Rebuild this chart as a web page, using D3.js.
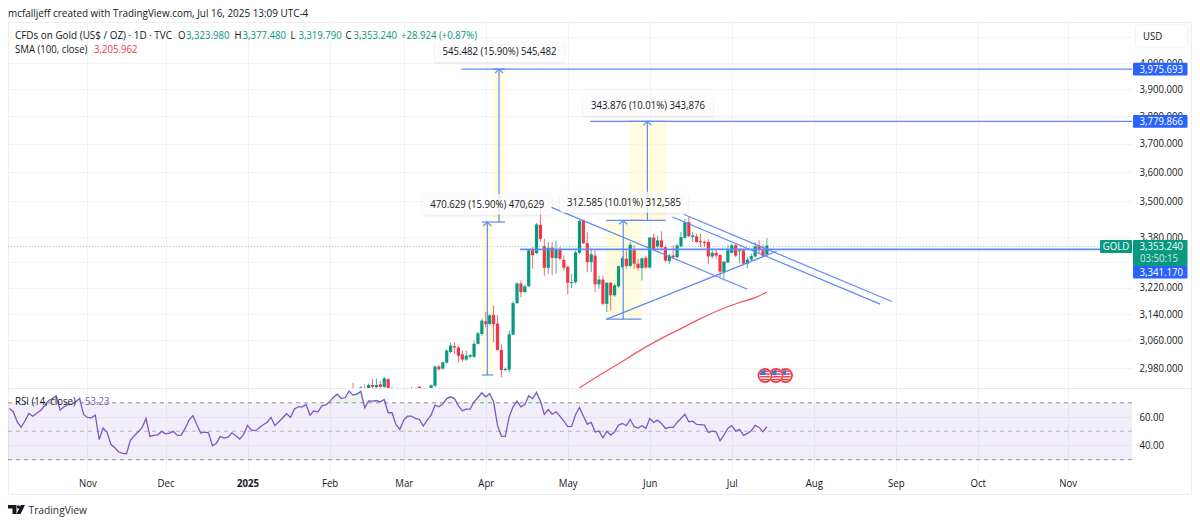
<!DOCTYPE html>
<html><head><meta charset="utf-8">
<script src="https://cdnjs.cloudflare.com/ajax/libs/d3/7.8.5/d3.min.js"></script>
<style>
html,body{margin:0;padding:0;background:#fff;overflow:hidden}
text{font-family:"Open Sans","Noto Sans",sans-serif;font-size:10.5px;fill:#131722}
.axis path,.axis line{display:none}
.axis text{fill:#131722;font-size:10.5px}
</style></head><body>
<svg id="c" width="1200" height="524"></svg>
<script>
// ---------- data ----------
const opens=[2915,2900,2905,2920,2905,2931,2925,2933,2926,2948,
2900,2915,2895,2880,2905,2910,2920,2926,2905,2895,
2905,2929,2984,2978,2995,3026,3043,3039,3019,3004,
3012,3012,3050,3079,3117,3109,3136,3110,3032,2974,
2975,3077,3172,3233,3206,3224,3338,3329,3421,3351,
3282,3347,3313,3340,3307,3285,3234,3237,3330,3436,
3361,3300,3321,3230,3245,3170,3235,3196,3224,3284,
3311,3288,3338,3295,3281,3314,3283,3379,3351,3370,
3348,3303,3321,3316,3351,3379,3430,3381,3383,3367,
3365,3365,3318,3330,3323,3268,3299,3330,3354,3335,
3338,3295,3308,3318,3351,3338,3323.98];
const highs=[2937,2918,2928,2933,2935,2948,2950,2942,2954,2950,
2926,2918,2905,2915,2923,2926,2923,2928,2915,2918,
2933,2986,2988,2998,3034,3054,3054,3044,3030,3030,
3020,3059,3085,3124,3145,3139,3165,3135,3049,2981,
3089,3178,3236,3242,3229,3342,3349,3427,3500,3375,
3365,3365,3370,3349,3321,3289,3263,3338,3438,3438,
3397,3343,3338,3258,3258,3237,3237,3232,3289,3319,
3338,3365,3354,3311,3316,3321,3381,3392,3386,3400,
3354,3327,3354,3359,3397,3441,3450,3397,3392,3392,
3370,3375,3340,3340,3326,3303,3354,3359,3359,3343,
3340,3316,3327,3365,3370,3359,3377.48];
const lows=[2890,2880,2895,2895,2895,2922,2920,2920,2920,2905,
2890,2885,2870,2875,2895,2900,2895,2900,2885,2890,
2900,2925,2972,2975,2992,3022,3020,2996,2998,3000,
3008,3008,3048,3074,3099,3105,3054,3030,2953,2970,
2967,3075,3170,3190,3204,3222,3279,3325,3365,3256,
3263,3258,3263,3305,3273,3199,3219,3233,3326,3358,
3268,3268,3206,3216,3165,3145,3150,3191,3220,3279,
3279,3284,3279,3273,3242,3279,3279,3336,3343,3338,
3300,3293,3311,3311,3348,3375,3381,3365,3362,3348,
3348,3293,3311,3311,3253,3248,3297,3327,3316,3297,
3289,3281,3304,3316,3327,3316,3319.79];
const closes=[2900,2890,2924,2905,2931,2926,2931,2926,2950,2920,
2915,2895,2880,2905,2915,2922,2905,2905,2895,2905,
2930,2984,2976,2996,3030,3045,3039,3015,3004,3015,
3017,3050,3081,3119,3109,3135,3108,3032,2974,2977,
3078,3172,3233,3206,3224,3338,3322,3422,3375,3282,
3346,3313,3340,3311,3282,3235,3237,3331,3434,3361,
3300,3325,3230,3245,3170,3235,3196,3227,3287,3313,
3288,3356,3295,3281,3312,3283,3379,3340,3370,3348,
3305,3321,3316,3354,3381,3430,3384,3386,3365,3365,
3363,3318,3330,3321,3270,3302,3338,3354,3321,3338,
3295,3308,3319,3351,3338,3319,3353.24];
const rsiValues=[66.0,63.7,56.7,52.7,57.4,62.5,60.6,62.7,64.6,67.9,71.4,73.0,74.9,64.9,67.2,68.8,69.1,70.7,73.0,61.8,
59.7,59.5,61.3,44.2,52.2,49.2,40.8,38.4,35.4,34.4,34.2,43.8,46.8,49.6,52.7,59.0,46.4,47.1,47.5,49.9,
48.2,48.7,49.9,47.1,47.3,52.0,57.8,60.9,54.8,48.7,49.4,48.9,39.8,41.5,46.4,45.2,45.9,48.9,46.8,44.5,
47.8,54.1,50.8,50.4,52.5,54.6,56.2,59.7,53.9,56.7,59.5,62.3,59.7,65.6,67.2,67.2,68.8,61.3,64.4,63.5,
67.9,68.6,70.7,74.0,76.1,73.0,73.7,78.2,75.4,76.1,78.0,66.5,71.4,71.2,71.6,70.7,72.3,63.0,63.0,54.8,51.3,
57.8,60.6,60.6,59.0,58.3,53.6,57.8,61.3,68.4,67.2,69.3,73.0,74.2,73.0,67.9,64.4,65.6,65.6,70.7,73.7,
77.0,74.2,76.5,70.7,54.3,46.6,46.4,60.2,67.2,71.2,67.2,68.8,74.9,73.0,77.3,71.2,61.8,65.3,62.0,63.7,
60.6,57.1,53.2,53.4,61.8,66.7,60.6,55.0,56.2,49.4,50.1,45.4,49.9,47.3,49.6,54.3,55.5,53.9,58.3,53.2,
52.2,53.9,52.0,59.0,56.2,57.8,55.5,52.0,52.7,52.7,56.2,59.0,62.0,56.7,57.1,54.8,54.6,54.3,49.2,50.1,
49.6,43.3,47.3,52.0,53.9,50.1,51.3,47.1,48.5,50.4,54.1,52.7,49.6,53.23];
const smaBars=[58,63,68,73,79,84,89,94,99,103,106];
const smaValues=[2923,2958,2992,3027,3066,3095,3125,3152,3174,3189,3205.962];
const gridPrices=[4100,4000,3900,3800,3700,3600,3500,3380,3300,3220,3140,3060,2980];
const priceLabels=[4000,3900,3800,3700,3600,3500,3380,3220,3140,3060,2980];
const rsiTicks=[60,40];
const rsiLevels=[70,50,30];
const monthBars=[-68,-48,-27,-6,13,34,55,76,97,118,139,160,183];
const monthLabels=["Nov","Dec","2025","Feb","Mar","Apr","May","Jun","Jul","Aug","Sep","Oct","Nov"];
const hLinePrices=[3975.693,3779.866,3341.17];
const hLineStartBars=[27.8,60.7,42.8];
// measure tools: left bar, right bar, arrow bar, from price, to price
const measureLeft=[33,35.8,64.8,70.9];
const measureRight=[35.9,38.9,73.9,80.1];
const measureArrow=[34.4,37.4,69.2,75.4];
const measureFrom=[2959.58,3430.211,3123.405,3435.99];
const measureTo=[3430.211,3975.693,3435.99,3779.866];
const measureLabels=["470.629 (15.90%) 470,629","545.482 (15.90%) 545,482","312.585 (10.01%) 312,585","343.876 (10.01%) 343,876"];
// trend lines: bar and price at both ends
const trendBarA=[50.7,65,84.8,81.8];
const trendPriceA=[3480,3123.4,3455,3447];
const trendBarB=[101,108.5,138,135];
const trendPriceB=[3215,3335,3177,3169];
const lastPrice=3353.24;

// ---------- layout ----------
const paneL=8,paneR=1132,frameR=1191,frameT=22,frameB=494,mainB=388,rsiB=472;
const UP="#089981",DOWN="#f23645",BLUE="#5f8bf8",BADGE="#2962ff";
const svg=d3.select("#c");
const x=d3.scaleLinear().domain([0,106]).range([353,766.9]);
const y=d3.scaleLog().domain([3900,3060]).range([89,340.4]);
const r=d3.scaleLinear().domain([70,30]).range([402.8,459.7]);

const defs=svg.append("defs");
defs.append("clipPath").attr("id","main").append("rect").attr("x",paneL).attr("y",frameT).attr("width",paneR-paneL).attr("height",mainB-frameT);
defs.append("clipPath").attr("id","rsi").append("rect").attr("x",paneL).attr("y",mainB).attr("width",paneR-paneL).attr("height",rsiB-mainB);

// grid
const grid=svg.append("g").attr("stroke","#f2f3f6").attr("stroke-width",1);
grid.selectAll(".v").data(monthBars).join("line").attr("x1",d=>Math.round(x(d))+.5).attr("x2",d=>Math.round(x(d))+.5).attr("y1",frameT).attr("y2",rsiB);
grid.selectAll(".h").data(gridPrices).join("line").attr("x1",paneL).attr("x2",paneR).attr("y1",d=>Math.round(y(d))+.5).attr("y2",d=>Math.round(y(d))+.5);
grid.selectAll(".r").data(rsiTicks).join("line").attr("x1",paneL).attr("x2",paneR).attr("y1",d=>Math.round(r(d))+.5).attr("y2",d=>Math.round(r(d))+.5);

// frame
svg.append("rect").attr("x",paneL+.5).attr("y",frameT+.5).attr("width",frameR-paneL).attr("height",frameB-frameT).attr("fill","none").attr("stroke","#eceef2");
svg.append("line").attr("x1",paneL).attr("x2",frameR).attr("y1",mainB+.5).attr("y2",mainB+.5).attr("stroke","#e6e8ee");

// main pane
const main=svg.append("g").attr("clip-path","url(#main)");
// last price line
main.append("line").attr("x1",paneL).attr("x2",paneR).attr("y1",Math.round(y(lastPrice))+.5).attr("y2",Math.round(y(lastPrice))+.5).attr("stroke",UP).attr("stroke-width",1).attr("stroke-dasharray","1 2").attr("opacity",.45);
// yellow bands
main.selectAll(".band").data(measureLeft).join("rect")
 .attr("x",(d,i)=>x(d)).attr("width",(d,i)=>x(measureRight[i])-x(d))
 .attr("y",(d,i)=>y(measureTo[i])).attr("height",(d,i)=>y(measureFrom[i])-y(measureTo[i]))
 .attr("fill","#fff9c4").attr("opacity",.55);
// candles
const bars=d3.range(opens.length);
const col=i=>closes[i]>=opens[i]?UP:DOWN;
main.selectAll(".w").data(bars).join("line").attr("x1",i=>x(i)).attr("x2",i=>x(i)).attr("y1",i=>y(highs[i])).attr("y2",i=>y(lows[i])).attr("stroke",col).attr("stroke-width",1).attr("opacity",.75);
main.selectAll(".b").data(bars).join("rect").attr("x",i=>x(i)-1.6).attr("width",3.2)
 .attr("y",i=>y(Math.max(opens[i],closes[i]))).attr("height",i=>Math.max(1,Math.abs(y(opens[i])-y(closes[i])))).attr("fill",col);
// SMA
main.append("path").datum(smaBars).attr("fill","none").attr("stroke",DOWN).attr("stroke-width",1.2).attr("opacity",.85)
 .attr("d",d3.line().x(d=>x(d)).y((d,i)=>y(smaValues[i])).curve(d3.curveMonotoneX));
// trend lines
main.selectAll(".t").data(trendBarA).join("line").attr("x1",d=>x(d)).attr("y1",(d,i)=>y(trendPriceA[i])).attr("x2",(d,i)=>x(trendBarB[i])).attr("y2",(d,i)=>y(trendPriceB[i])).attr("stroke",BLUE).attr("stroke-width",1.2);
// horizontal price lines
main.selectAll(".hl").data(hLinePrices).join("line").attr("x1",(d,i)=>x(hLineStartBars[i])).attr("x2",paneR).attr("y1",d=>y(d)).attr("y2",d=>y(d)).attr("stroke",BLUE).attr("stroke-width",(d,i)=>i==2?1.8:1.2);
// measure tools
const mt=main.append("g").attr("stroke",BLUE).attr("fill","none").attr("stroke-width",1.2);
measureLeft.forEach((l,i)=>{
  const ax=x(measureArrow[i]),top=y(measureTo[i]),bot=y(measureFrom[i]);
  mt.append("line").attr("x1",x(l)).attr("x2",x(measureRight[i])).attr("y1",bot).attr("y2",bot);
  mt.append("line").attr("x1",x(l)).attr("x2",x(measureRight[i])).attr("y1",top).attr("y2",top);
  mt.append("line").attr("x1",ax).attr("x2",ax).attr("y1",bot).attr("y2",top);
  mt.append("path").attr("d",`M${ax-4},${top+4}L${ax},${top}L${ax+4},${top+4}`);
});
// economic event marker
const ev=main.append("g");
defs.append("clipPath").attr("id","flagclip").append("circle").attr("r",5.6);
[785.5,776,765].forEach(cx=>{
  const g=ev.append("g").attr("transform",`translate(${cx},375.5)`);
  g.append("circle").attr("r",7.4).attr("fill","#fff");
  const f=g.append("g").attr("clip-path","url(#flagclip)");
  f.append("rect").attr("x",-6).attr("y",-6).attr("width",12).attr("height",12).attr("fill","#fff");
  [-5,-2.2,.6,3.4].forEach(s=>f.append("rect").attr("x",-6).attr("y",s).attr("width",12).attr("height",1.4).attr("fill","#f23645"));
  f.append("rect").attr("x",-6).attr("y",-6).attr("width",6.5).attr("height",5.6).attr("fill","#3c78d8");
  g.append("circle").attr("r",6.6).attr("fill","none").attr("stroke","#f23645").attr("stroke-width",1.6);
});
// measure labels
const boxX=[422.7,435,560,583],boxY=[194,40.7,191.7,95],boxW=[129,129,128,130],boxH=[20.5,21,21,21];
const shadow=defs.append("filter").attr("id","sh").attr("x","-10%").attr("y","-30%").attr("width","120%").attr("height","170%");
shadow.append("feDropShadow").attr("dx",0).attr("dy",1).attr("stdDeviation",1.6).attr("flood-color","#000").attr("flood-opacity",.14);
measureLabels.forEach((t,i)=>{
  svg.append("rect").attr("x",boxX[i]).attr("y",boxY[i]).attr("width",boxW[i]).attr("height",boxH[i]).attr("rx",4).attr("fill","#fff").attr("fill-opacity",.78).attr("filter","url(#sh)");
  svg.append("text").attr("x",boxX[i]+boxW[i]/2).attr("y",boxY[i]+boxH[i]/2).attr("dy","0.36em").attr("text-anchor","middle").text(t);
});

// RSI pane
const rp=svg.append("g").attr("clip-path","url(#rsi)");
rp.append("rect").attr("x",paneL).attr("width",paneR-paneL).attr("y",r(70)).attr("height",r(30)-r(70)).attr("fill","#7e57c2").attr("opacity",.1);
rp.selectAll(".lv").data(rsiLevels).join("line").attr("x1",paneL).attr("x2",paneR).attr("y1",d=>r(d)).attr("y2",d=>r(d)).attr("stroke","#787b86").attr("stroke-dasharray","4 4").attr("stroke-width",1).attr("opacity",d=>d===50?.5:.8);
const rsiBar=k=>106-(rsiValues.length-1-k);
rp.append("path").datum(rsiValues).attr("fill","#4caf50").attr("opacity",.12)
 .attr("d",d3.area().x((d,k)=>x(rsiBar(k))).y0(r(70)).y1(d=>r(Math.max(d,70))));
rp.append("path").datum(rsiValues).attr("fill","none").attr("stroke","#7e57c2").attr("stroke-width",1.3)
 .attr("d",d3.line().x((d,k)=>x(rsiBar(k))).y(d=>r(d)));

// right axes
svg.append("g").attr("class","axis").attr("transform","translate(1183,0)")
 .call(d3.axisLeft(y).tickValues(priceLabels).tickFormat(d3.format(",.3f")).tickSize(0).tickPadding(0));
svg.append("g").attr("class","axis").attr("transform","translate(1164,0)")
 .call(d3.axisLeft(r).tickValues(rsiTicks).tickFormat(d3.format(".2f")).tickSize(0).tickPadding(0));
// time axis
const ax3=svg.append("g").attr("class","axis").attr("transform","translate(0,479.5)")
 .call(d3.axisBottom(x).tickValues(monthBars).tickFormat((d,i)=>monthLabels[i]).tickSize(0).tickPadding(0));
ax3.selectAll("text").attr("dy","0.7em").style("font-weight",(d,i)=>monthLabels[i]==="2025"?"700":"400");

// price badges
svg.append("rect").attr("x",1135).attr("y",25).attr("width",53).attr("height",22).attr("rx",4).attr("fill","#fff").attr("stroke","#eef0f3");
svg.append("text").attr("x",1143).attr("y",36).attr("dy","0.36em").text("USD");
const fmt=d3.format(",.3f");
hLinePrices.forEach(p=>{
  const yy=p===3341.17?272:y(p);
  svg.append("rect").attr("x",1133).attr("y",yy-6.4).attr("width",54.5).attr("height",12.8).attr("rx",1).attr("fill",BADGE);
  svg.append("text").attr("x",1183).attr("y",yy).attr("dy","0.36em").attr("text-anchor","end").style("fill","#fff").text(fmt(p));
});
svg.append("rect").attr("x",1100).attr("y",240).attr("width",32).attr("height",13).attr("rx",1).attr("fill",UP);
svg.append("text").attr("x",1116).attr("y",246.7).attr("dy","0.36em").attr("text-anchor","middle").style("fill","#fff").text("GOLD");
svg.append("rect").attr("x",1133).attr("y",240).attr("width",54.5).attr("height",26).attr("rx",1).attr("fill",UP);
svg.append("text").attr("x",1183).attr("y",246.7).attr("dy","0.36em").attr("text-anchor","end").style("fill","#fff").text(fmt(lastPrice));
svg.append("text").attr("x",1178).attr("y",258.5).attr("dy","0.36em").attr("text-anchor","end").style("fill","#cfe9e3").text("03:50:15");

// header text
svg.append("text").attr("x",8).attr("y",13).attr("dy","0.36em").attr("class","wide").text("mcfalljeff created with TradingView.com, Jul 16, 2025 13:09 UTC-4");
svg.append("text").attr("x",15).attr("y",35).attr("dy","0.36em").attr("class","wide").text("CFDs on Gold (US$ / OZ) · 1D · TVC");
const ohlcX=[178,234.5,290.4,345.6],ohlcL=["O","H","L","C"],ohlcV=[3323.98,3377.48,3319.79,3353.24];
ohlcL.forEach((l,i)=>{
  svg.append("text").attr("x",ohlcX[i]).attr("y",35).attr("dy","0.36em").text(l);
  svg.append("text").attr("x",ohlcX[i]+8).attr("y",35).attr("dy","0.36em").style("fill",UP).text(fmt(ohlcV[i]));
});
svg.append("text").attr("x",401).attr("y",35).attr("dy","0.36em").style("fill",UP).text("+28.924 (+0.87%)");
svg.append("text").attr("x",15).attr("y",49.5).attr("dy","0.36em").text("SMA (100, close)");
svg.append("text").attr("x",94).attr("y",49.5).attr("dy","0.36em").style("fill",DOWN).text("3,205.962");
svg.append("text").attr("x",15).attr("y",401).attr("dy","0.36em").text("RSI (14, close)");
svg.append("text").attr("x",85).attr("y",401).attr("dy","0.36em").style("fill","#7e57c2").text("53.23");

// TradingView logo
const logo=svg.append("g").attr("fill","#131722");
logo.append("path").attr("d","M8,505H16.5V514H12.5V508.5H8Z");
logo.append("circle").attr("cx",18.5).attr("cy",507).attr("r",1.7);
logo.append("path").attr("d","M21,505H25L20.5,514H16.5Z");
svg.append("text").attr("x",28.5).attr("y",509.5).attr("dy","0.36em").attr("class","brand").style("font-size","11.5px").style("fill","#2a2e39").text("TradingView");

// narrow every text to the width of the reference's typeface
svg.selectAll("text").each(function(){
  const t=d3.select(this),k=t.classed("wide")?.943:t.classed("brand")?.89:.915;
  t.attr("textLength",this.getComputedTextLength()*k).attr("lengthAdjust","spacingAndGlyphs");
});
</script>
</body></html>
